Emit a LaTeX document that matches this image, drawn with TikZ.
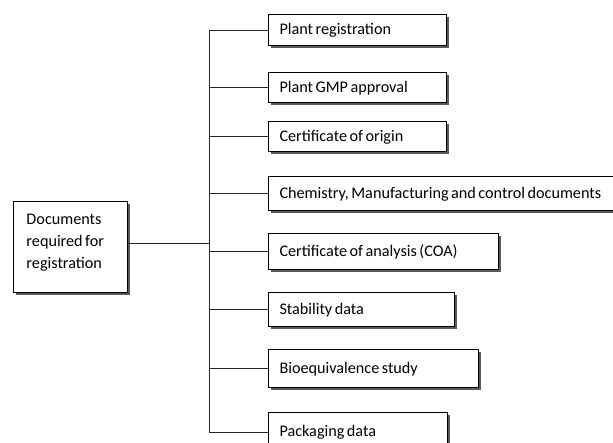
\documentclass[tikz,border=0pt]{standalone}
\usepackage{fontspec}
\setmainfont{Carlito}
\usepackage{tikz}
\usetikzlibrary{shadows}
\usetikzlibrary{calc}
\newcommand{\DRBoxX}{268}
\newcommand{\DRTrunkX}{209}
\newcommand{\DRBox}[5]{
  \node [docbox, text width=#3, minimum height=#4] (#1) at (\DRBoxX,#2) {#5};
  \draw [branch] (trunk |- #1.west) -- (#1.west);
}
\tikzset{
  docbox/.style={draw, line width=1pt, fill=white, anchor=west, align=left,
    inner xsep=11pt, inner ysep=2pt,
    font={\fontsize{16.2}{22}\selectfont},
    execute at begin node={\spaceskip=2.5pt plus 1pt minus 0.5pt\relax},
    drop shadow={shadow xshift=2.5pt, shadow yshift=-2.5pt, fill=black!65, opacity=1}},
  branch/.style={line width=1pt, black!85}
}

\begin{document}
\begin{tikzpicture}[x=1pt, y=-1pt]
\useasboundingbox (0,0) rectangle (613,443);
\coordinate (trunk) at (\DRTrunkX,0);

\node [docbox, anchor=north west, text width=88pt, minimum height=91pt, inner xsep=13pt]
  (docs) at (13,201) {Documents\\required for\\registration\rule[-12pt]{0pt}{0pt}};
\coordinate (docsout) at ($(docs.east) + (0,-3.5)$);

\DRBox{plantreg}{30.5}{156pt}{31pt}{Plant registration}
\DRBox{plantgmp}{88}{156pt}{30pt}{Plant GMP approval}
\DRBox{origin}{137}{156pt}{30pt}{Certificate of origin}
\DRBox{cmc}{194}{340pt}{34pt}{Chemistry, Manufacturing and control documents}
\DRBox{coa}{252}{208pt}{36pt}{Certificate of analysis (COA)}
\DRBox{stability}{310}{164pt}{34pt}{Stability data}
\DRBox{bioeq}{369}{188pt}{38pt}{Bioequivalence study}
\DRBox{packaging}{432}{157pt}{40pt}{Packaging data}

% trunk and link to the main box
\draw [branch] (trunk |- plantreg.west) -- (trunk |- packaging.west);
\draw [branch] (docsout) -- (docsout -| trunk);
\end{tikzpicture}
\end{document}
